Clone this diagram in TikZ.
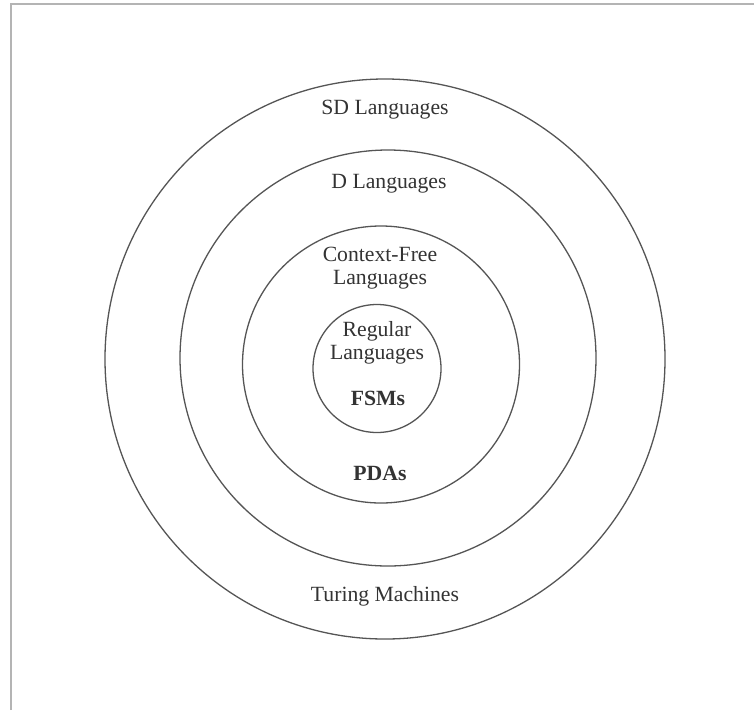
\documentclass[tikz,border=0pt]{standalone}
\usepackage{fontspec}
\setmainfont{Liberation Serif}
\definecolor{ringcol}{HTML}{555555}
\definecolor{txtcol}{HTML}{333333}
\definecolor{framecol}{HTML}{B4B4B4}
\begin{document}
\begin{tikzpicture}[x=1pt,y=-1pt,
  ring/.style={circle,draw=ringcol,line width=1.3pt,inner sep=0pt},
  lbl/.style={text=txtcol,font=\fontsize{21.7}{23}\selectfont,align=center,inner sep=0pt},
  blbl/.style={lbl,font=\fontsize{21.7}{23}\selectfont\bfseries}]
\useasboundingbox (0,0) rectangle (754,710);
\fill[white] (0,0) rectangle (754,710);
\coordinate (fa) at (11,710);
\coordinate (fb) at (11,4);
\coordinate (fc) at (754,4);
\draw[framecol,line width=2.2pt] (fa) -- (fb) -- (fc);
\node[ring,minimum size=560pt] (sd) at (385,359) {};
\node[ring,minimum size=416pt] (d) at (388,358) {};
\node[ring,minimum size=277pt] (cf) at (381,364.5) {};
\node[ring,minimum size=128pt] (reg) at (377,368.5) {};
\node[lbl] (tsd) at (385,110) {SD Languages};
\node[lbl] (td) at (389,184) {D Languages};
\node[lbl] (tcf) at (380,268) {Context-Free\\Languages};
\node[lbl] (treg) at (377,343) {Regular\\Languages};
\node[blbl] (tfsm) at (378,398) {FSMs};
\node[blbl] (tpda) at (380,473) {PDAs};
\node[lbl] (ttm) at (385,596) {Turing Machines};
\end{tikzpicture}
\end{document}
